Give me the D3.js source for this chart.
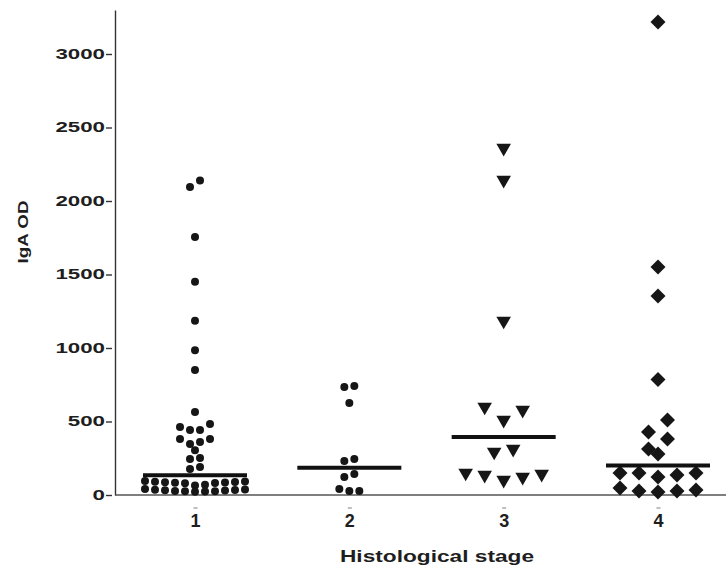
<!DOCTYPE html>
<html>
<head>
<meta charset="utf-8">
<script src="https://cdn.jsdelivr.net/npm/d3@7"></script>
<style>
  html, body { margin: 0; padding: 0; background: #fff; }
  svg { display: block; }
  text { font-family: "Liberation Sans", Arial, Helvetica, sans-serif; font-weight: bold; fill: #1e1e1e; }
</style>
</head>
<body>
<div id="chart"></div>
<script>
// ---- data ----
const categories = ["1", "2", "3", "4"];
const stage1 = [2140, 2095, 1755, 1450, 1185, 985, 850, 565,
  483, 463, 442, 442, 381, 381, 360, 347, 305, 252, 245, 190, 177,
  95, 92, 90, 88, 86, 85, 84, 82, 80, 70, 65,
  40, 38, 36, 34, 32, 30, 28, 26, 25, 24, 22];
const stage2 = [741, 735, 626, 245, 231, 143, 122, 41, 27, 27];
const stage3 = [2360, 2143, 1184, 599, 578, 510, 313, 293, 150, 143, 136, 122, 102];
const stage4 = [3218, 1551, 1354, 785, 510, 429, 381, 313, 279,
  150, 150, 150, 136, 122, 48, 34, 27, 27, 20];
const medians = [135, 185, 395, 200];
const yTicks = [0, 500, 1000, 1500, 2000, 2500, 3000];
const yTitle = "IgA OD";
const xTitle = "Histological stage";

const groups = [stage1, stage2, stage3, stage4];
const symbolKinds = ["circle", "circle", "triangle", "diamond"];

// ---- layout ----
const W = 726, H = 570;
const svg = d3.select("#chart").append("svg").attr("width", W).attr("height", H);

const y = d3.scaleLinear().domain([0, 3300]).range([495, 495 - 3300 * 0.147]);
const x = d3.scalePoint().domain(categories).range([195, 658]);
const axisX0 = 115;

const symCfg = {
  circle:   { gen: d3.symbol().type(d3.symbolCircle).size(Math.PI * 16), rot: 0, step: 10, thresh: 7 },
  triangle: { gen: d3.symbol().type(d3.symbolTriangle).size(92), rot: 180, step: 19, thresh: 14 },
  diamond:  { gen: d3.symbol().type(d3.symbolSquare).size(112), rot: 45, step: 19, thresh: 14 }
};

// place points in rows (scatter dot plot layout)
function layout(values, cfg) {
  const sorted = values.slice().sort((a, b) => b - a);
  const rows = [];
  let cur = null;
  sorted.forEach(v => {
    if (cur && (y(v) - y(cur[0])) < cfg.thresh) cur.push(v);
    else { cur = [v]; rows.push(cur); }
  });
  const pts = [];
  rows.forEach(r => {
    const asc = r.slice().sort((a, b) => a - b);
    const n = asc.length;
    asc.forEach((v, i) => {
      let slot;
      if (n % 2 === 1) {
        slot = i === 0 ? 0 : (i % 2 === 1 ? (i + 1) / 2 : -i / 2);
      } else {
        const k = Math.floor(i / 2);
        slot = (i % 2 === 0 ? -1 : 1) * (k + 0.5);
      }
      pts.push({ v, slot });
    });
  });
  return pts;
}

// axes
const gy = svg.append("g").attr("transform", `translate(${axisX0},0)`)
  .call(d3.axisLeft(y).tickValues(yTicks).tickFormat(d3.format("d")).tickSizeOuter(0).tickSize(0).tickPadding(10));
gy.select(".domain").attr("stroke", "#333").attr("stroke-width", 1.4);
gy.selectAll(".tick line").attr("x1", -3).attr("x2", -9).attr("stroke", "#333").attr("stroke-width", 1.4);
gy.selectAll(".tick text")
  .attr("x", -10)
  .style("font-size", "14px")
  .style("font-family", '"Liberation Sans", Arial, sans-serif')
  .style("font-weight", "bold")
  .attr("fill", "#1e1e1e")
  .attr("textLength", d => String(d).length * 12.4)
  .attr("lengthAdjust", "spacingAndGlyphs");

svg.append("line")
  .attr("x1", axisX0).attr("x2", W).attr("y1", y(0)).attr("y2", y(0))
  .attr("stroke", "#555").attr("stroke-width", 1.5);

const gx = svg.append("g").attr("transform", `translate(0,${y(0)})`)
  .call(d3.axisBottom(x).tickSize(0).tickPadding(0));
gx.select(".domain").remove();
gx.selectAll(".tick text")
  .attr("y", 32).attr("dy", 0)
  .style("font-size", "18px")
  .style("font-family", '"Liberation Sans", Arial, sans-serif')
  .style("font-weight", "bold")
  .attr("fill", "#1e1e1e");
gx.selectAll(".tick").append("line")
  .attr("x1", -2).attr("x2", 2).attr("y1", 13).attr("y2", 13)
  .attr("stroke", "#aaa").attr("stroke-width", 1.5);

// points
groups.forEach((vals, gi) => {
  const cfg = symCfg[symbolKinds[gi]];
  const cx = x(categories[gi]);
  svg.append("g").selectAll("path")
    .data(layout(vals, cfg))
    .join("path")
    .attr("d", cfg.gen)
    .attr("transform", d => `translate(${cx + d.slot * cfg.step},${y(d.v)}) rotate(${cfg.rot})`)
    .attr("fill", "#161616");
});

// median lines
svg.append("g").selectAll("line")
  .data(medians)
  .join("line")
  .attr("x1", (d, i) => x(categories[i]) - 52)
  .attr("x2", (d, i) => x(categories[i]) + 52)
  .attr("y1", d => y(d)).attr("y2", d => y(d))
  .attr("stroke", "#111").attr("stroke-width", 4);

// titles
svg.append("text")
  .attr("transform", "translate(28,232) rotate(-90)")
  .attr("text-anchor", "middle")
  .style("font-size", "15px")
  .attr("textLength", 63).attr("lengthAdjust", "spacingAndGlyphs")
  .text(yTitle);

svg.append("text")
  .attr("x", 437).attr("y", 562)
  .attr("text-anchor", "middle")
  .style("font-size", "17px")
  .attr("textLength", 194).attr("lengthAdjust", "spacingAndGlyphs")
  .text(xTitle);
</script>
</body>
</html>
